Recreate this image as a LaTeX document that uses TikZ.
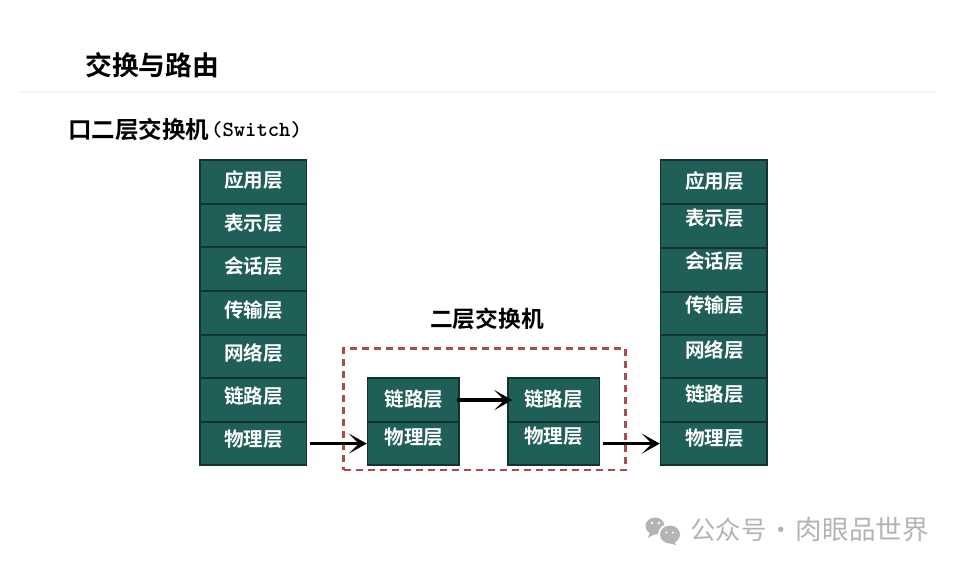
\documentclass[tikz,border=0pt]{standalone}
\usepackage{fontspec}
\setmainfont{Noto Sans CJK SC}
\newfontfamily\cjkb{Noto Sans CJK SC Bold}
\newfontfamily\cjkr{Noto Sans CJK SC}
\usetikzlibrary{arrows.meta}
\definecolor{boxfill}{HTML}{1F5F58}
\definecolor{boxline}{HTML}{12332F}
\definecolor{dashred}{HTML}{A84A50}
\definecolor{rulepink}{HTML}{FDF1F1}
\definecolor{wmgray}{HTML}{B4B4B4}
\tikzset{
  layer/.style={draw=boxline,line width=1.6pt,fill=boxfill,text=white,inner sep=0pt,anchor=north west,font=\cjkb\fontsize{19.6}{20}\selectfont},
  wide/.style={layer,minimum width=106.5pt},
  narrow/.style={layer,minimum width=91.5pt},
  head/.style={text=black,inner sep=0pt,font=\cjkb\fontsize{19}{19}\selectfont},
  link/.style={-{Stealth[length=18pt,width=20pt,inset=10pt]},line width=3.4pt,black},
  wm/.style={text=wmgray,inner sep=0pt,font=\cjkr\fontsize{25.4}{26}\selectfont},
}
\newcommand{\lay}[5]{%
  \node[#2,minimum height={(#5-#4)*1pt}] (#1) at (#3-0.7,#4-0.7) {};}
\begin{document}
\begin{tikzpicture}[x=1pt,y=-1pt]
\useasboundingbox (0,0) rectangle (960,569);
\fill[white] (0,0) rectangle (960,569);
\node[head,font=\cjkb\fontsize{26.8}{27}\selectfont,anchor=west] (title) at (85,65) {交换与路由};
\draw[rulepink,line width=1.2pt] (18,92) -- (935,92);
\node[head,anchor=west,font=\cjkb\fontsize{23.5}{24}\selectfont] (sub) at (68,130) {口二层交换机};
\node[head,anchor=west,font=\ttfamily\bfseries\fontsize{21.6}{22}\selectfont] (subb) at (211,130) {(Switch)};

\foreach \n/\t/\b/\ty/\s in {la/160/204/180/应用层,lb/204/247/223/表示层,lc/247/291/266/会话层,ld/291/335/310/传输层,le/335/378/353/网络层,lf/378/422/396/链路层,lg/422/465/439/物理层}{
  \lay{\n}{wide}{200}{\t}{\b}
  \node[layer,draw=none,fill=none,anchor=center] (\n t) at (253.6,\ty) {\s};
}
\foreach \n/\t/\b/\ty/\s in {ra/160/204/181/应用层,rb/204/248/218/表示层,rc/248/292/261/会话层,rd/292/335/305/传输层,re/335/378/350/网络层,rf/378/422/394/链路层,rg/422/465/438/物理层}{
  \lay{\n}{wide}{660.5}{\t}{\b}
  \node[layer,draw=none,fill=none,anchor=center] (\n t) at (714.4,\ty) {\s};
}
\lay{ma}{narrow}{367.5}{378}{422}
\node[layer,draw=none,fill=none,anchor=center] (mat) at (414,399) {链路层};
\lay{mb}{narrow}{367.5}{422}{465}
\node[layer,draw=none,fill=none,anchor=center] (mbt) at (414,437) {物理层};
\lay{na}{narrow}{508}{378}{422}
\node[layer,draw=none,fill=none,anchor=center] (nat) at (553.6,399) {链路层};
\lay{nb}{narrow}{508}{422}{465}
\node[layer,draw=none,fill=none,anchor=center] (nbt) at (553.6,436) {物理层};

\node[head,anchor=west,font=\cjkb\fontsize{22.7}{23}\selectfont] (sw) at (430,319) {二层交换机};
\node[draw=dashred,line width=2.5pt,dash pattern=on 7pt off 5pt,inner sep=0pt,minimum width=282pt,minimum height=121.5pt,anchor=north west] (frame) at (342.3,347.3) {};

\draw[link,shorten <=3pt] (lg.east) -- (mb.west);
\draw[link,shorten <=-3pt,shorten >=-5pt] (ma.east) -- (na.west);
\draw[link,shorten <=2.5pt] (nb.east) -- (rg.west);

% watermark
\fill[wmgray] (655,526) ellipse (9.5pt and 8.5pt);
\fill[wmgray] (650,532) -- (648,538) -- (655,534) -- cycle;
\fill[white] (670,534.5) ellipse (12pt and 11pt);
\fill[wmgray] (670,534.5) ellipse (10pt and 9pt);
\fill[wmgray] (674,541) -- (676,545) -- (669,543) -- cycle;
\fill[white] (652,523) circle (1.3pt) (659,523) circle (1.3pt) (666.5,532.5) circle (1.1pt) (673,532.5) circle (1.1pt);
\node[wm,anchor=west] (wmt) at (690,530) {公众号\hspace{2pt}·\hspace{2pt}{\fontsize{26.6}{27}\selectfont 肉眼品世界}};
\end{tikzpicture}
\end{document}
